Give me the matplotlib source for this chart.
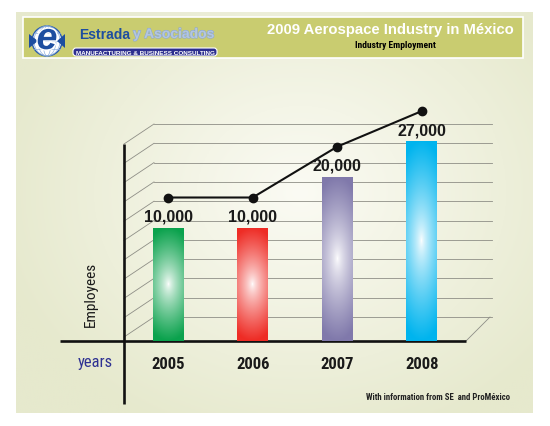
import numpy as np
import matplotlib
matplotlib.use('Agg')
import matplotlib.pyplot as plt
import matplotlib.font_manager as fm
from matplotlib.patches import Rectangle, FancyBboxPatch, Circle, Ellipse, Polygon
from matplotlib.transforms import offset_copy
import matplotlib.patheffects as pe
from matplotlib.colors import to_rgb

plt.rcParams['font.family'] = ['Liberation Sans', 'DejaVu Sans']

# data
years = ['2005', '2006', '2007', '2008']
employees = [10000, 10000, 20000, 27000]
value_labels = ['10,000', '10,000', '20,000', '27,000']
bar_colors = ['#0ba24d', '#ee2c25', '#8079ab', '#00b4ee']


# the reference uses a condensed face; take one if the system has it
def _narrow_file(bold):
    prefs = ['Liberation Sans Narrow', 'Roboto Condensed', 'Open Sans Condensed',
             'Noto Sans Condensed', 'Open Sans', 'Roboto', 'Noto Sans']
    for name in prefs:
        for f in fm.fontManager.ttflist:
            is_bold = f.weight in ('bold', 700, 600, 'semibold', 'demibold')
            narrow = ('Narrow' in f.name or 'Condensed' in f.name
                      or f.stretch in ('condensed', 'semi-condensed', 'extra-condensed', 75, 87, 62))
            if f.name == name and narrow and is_bold == bold and f.style == 'normal':
                return f.fname
    return None


NARROW_FILES = {b: _narrow_file(b) for b in (False, True)}


def narrow(size, bold=False):
    path = NARROW_FILES[bold]
    if path:
        return fm.FontProperties(fname=path, size=size)
    return fm.FontProperties(family='Liberation Sans', size=size * 0.85,
                             weight='bold' if bold else 'normal')


W, H = 550, 427
fig = plt.figure(figsize=(W / 100, H / 100), dpi=100)
fig.patch.set_facecolor('white')

# background layer, drawn in pixel coordinates
bg = fig.add_axes([0, 0, 1, 1])
bg.axis('off')


def radial(nx, ny, cx, cy, rx, ry, inner, outer, power=1.0):
    yy, xx = np.mgrid[0:1:ny * 1j, 0:1:nx * 1j]
    d = np.clip(np.sqrt(((xx - cx) / rx) ** 2 + ((yy - cy) / ry) ** 2), 0, 1) ** power
    a, b = np.array(to_rgb(inner)), np.array(to_rgb(outer))
    return a + (b - a) * d[..., None]


# pale panel with a light centre
panel = radial(260, 200, 0.55, 0.45, 0.6, 0.65, '#fbfbf4', '#e6e9cd')
bg.imshow(panel, extent=(16, 533, 414, 13), aspect='auto', zorder=0)

# header strip
bg.add_patch(Rectangle((23, 18), 500, 41, fc='#c9cc70', ec='white', lw=1.2, zorder=1))
bg.text(514, 30, '2009 Aerospace Industry in México', color='white', fontsize=10.7,
        fontweight='bold', ha='right', va='center', zorder=3)
bg.text(395, 45, 'Industry Employment', color='black', fontproperties=narrow(6.8, True),
        ha='center', va='center', zorder=3)

# logo: globe with a big "e"
bg.add_patch(Circle((47, 42), 15, fc='white', ec='#2a5db0', lw=1, zorder=2))
for rx in (4, 9, 13):
    bg.add_patch(Ellipse((47, 42), rx * 2, 30, fc='none', ec='#8fb0dd', lw=0.5, zorder=2))
for dy in (-8, 0, 8):
    bg.plot([34, 60], [42 + dy, 42 + dy], color='#8fb0dd', lw=0.5, zorder=2)
bg.add_patch(Polygon([(29, 35), (38, 42), (29, 49)], fc='#1d4ea0', zorder=2))
bg.add_patch(Polygon([(65, 35), (57, 42), (65, 49)], fc='#1d4ea0', zorder=2))
bg.text(47, 40, 'e', color='#1d4ea0', fontsize=27, fontweight='bold', style='italic',
        ha='center', va='center', zorder=3,
        path_effects=[pe.withStroke(linewidth=2, foreground='white')])
bg.text(79, 35, 'Estrada', color='#1d4ea0', fontsize=10, fontweight='bold',
        ha='left', va='center', zorder=3)
bg.text(133, 35, 'y Asociados', color='#b3c6e0', fontsize=10, fontweight='bold',
        ha='left', va='center', zorder=3,
        path_effects=[pe.withStroke(linewidth=0.8, foreground='#8ea8cf')])
bg.add_patch(FancyBboxPatch((73, 49), 144, 8, boxstyle='round,pad=0,rounding_size=3',
                            fc='#2d2f8f', ec='white', lw=0.8, zorder=2))
bg.text(145, 53.3, 'MANUFACTURING & BUSINESS CONSULTING', color='white', fontsize=4.6,
        fontweight='bold', ha='center', va='center', zorder=3)

# pseudo 3D wall behind the bars
grid_c = '#8e8e86'
for k in range(11):
    y = 125 + k * 19.3
    bg.plot([154, 492], [y, y], color=grid_c, lw=0.6, zorder=1)
    bg.plot([124, 154], [y + 20, y], color=grid_c, lw=0.6, zorder=1)
bg.plot([466, 490], [342, 318], color=grid_c, lw=0.6, zorder=1)

# thick axes
bg.plot([124, 124], [145, 405], color='#111111', lw=1.9, solid_capstyle='butt', zorder=4)
bg.plot([60, 466], [342, 342], color='#111111', lw=1.9, solid_capstyle='butt', zorder=4)

bg.text(95, 363, 'years', color='#2e3192', fontproperties=narrow(12),
        ha='center', va='center', zorder=3)
bg.text(91, 294, 'Employees', color='#1a1a1a', fontproperties=narrow(11),
        rotation=90, ha='center', va='center', zorder=3)
bg.text(510, 398, 'With information from SE  and ProMéxico', color='#222222',
        fontproperties=narrow(6.3, True), ha='right', va='center', zorder=3)

bg.set_xlim(0, W)
bg.set_ylim(H, 0)

# bar chart layer
BASE, TOP = -12300, 35250
ax = fig.add_axes([124 / W, (H - 342) / H, (466 - 124) / W, (342 - 100) / H])
ax.patch.set_alpha(0)
for s in ax.spines.values():
    s.set_visible(False)

x = np.arange(len(years))
bars = ax.bar(x, [v - BASE for v in employees], bottom=BASE, width=0.366,
              color=bar_colors, zorder=2)

# white glow in the middle of each bar
for rect, col in zip(bars, bar_colors):
    x0, w = rect.get_x(), rect.get_width()
    y0, h = rect.get_y(), rect.get_height()
    ny = max(int(h / 196.5), 10)
    glow = radial(31, ny, 0.5, 0.5, 1.0, 0.5, 'white', col, power=0.75)
    im = ax.imshow(glow, extent=(x0, x0 + w, y0, y0 + h), aspect='auto', zorder=3)
    im.set_clip_path(rect)

# trend line sitting above the bars
trend = offset_copy(ax.transData, fig=fig, x=0, y=30, units='dots')
ax.plot(x, employees, transform=trend, color='#111111', lw=1.5, marker='o', ms=6,
        clip_on=False, zorder=5)

for xi, v, lbl in zip(x, employees, value_labels):
    ax.annotate(lbl, (xi, v), xytext=(0, 5), textcoords='offset points', ha='center',
                va='baseline', fontsize=11.5, fontweight='bold', color='#1a1a1a', zorder=6)

ax.set_xticks(x, years)
ax.tick_params(axis='x', length=0, pad=11)
for t in ax.get_xticklabels():
    t.set_fontproperties(narrow(12, True))
    t.set_color('#1a1a1a')
ax.set_yticks([])
ax.set_xlim(-0.52, 3.52)
ax.set_ylim(BASE, TOP)

fig.savefig('out.png', dpi=100)
